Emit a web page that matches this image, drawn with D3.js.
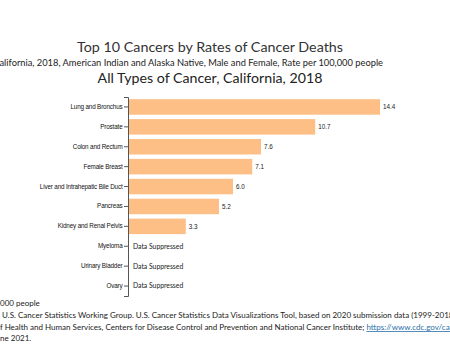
<!DOCTYPE html>
<html>
<head>
<meta charset="utf-8">
<script src="https://cdn.jsdelivr.net/npm/d3@7"></script>
<style>
  body { margin: 0; background: #fff; }
  svg { display: block; }
</style>
</head>
<body>
<div id="chart"></div>
<script>
const width = 450,
  height = 351;

// data
const cancers = ["Lung and Bronchus", "Prostate", "Colon and Rectum", "Female Breast",
  "Liver and Intrahepatic Bile Duct", "Pancreas", "Kidney and Renal Pelvis",
  "Myeloma", "Urinary Bladder", "Ovary"];
const rates = [14.4, 10.7, 7.6, 7.1, 6.0, 5.2, 3.3, null, null, null];

const titles = ["Top 10 Cancers by Rates of Cancer Deaths",
  "California, 2018, American Indian and Alaska Native, Male and Female, Rate per 100,000 people",
  "All Types of Cancer, California, 2018"];

// [hidden prefix, visible part] for the footer lines that are cut off at the left
const footer = [
  ["Rate per 100,", "000 people"],
  ["Source: ", "U.S.  Cancer Statistics Working Group. U.S.  Cancer Statistics Data Visualizations Tool, based on 2020 submission data (1999-2018): U.S. Department"],
  ["U.S. Department o", "f Health and Human Services, Centers  for Disease Control and Prevention  and National Cancer Institute; https://www.cdc.gov/cancer/dataviz, released in June 2021."],
  ["released in Ju", "ne 2021."]
];

const svg = d3.select("#chart").append("svg")
  .attr("width", width)
  .attr("height", height);

const titleFont = "Lato, 'Open Sans', sans-serif";

svg.append("text")
  .attr("x", 210).attr("y", 52)
  .attr("text-anchor", "middle")
  .style("font-family", titleFont)
  .style("font-size", "14.3px")
  .attr("fill", "#333")
  .text(titles[0]);

svg.append("text")
  .attr("x", 383).attr("y", 66)
  .attr("text-anchor", "end")
  .style("font-family", titleFont)
  .style("font-size", "9.3px")
  .attr("fill", "#222")
  .text(titles[1]);

svg.append("text")
  .attr("x", 210).attr("y", 83)
  .attr("text-anchor", "middle")
  .style("font-family", titleFont)
  .style("font-size", "14.2px")
  .attr("fill", "#222")
  .text(titles[2]);

const margin = { left: 128, top: 97, bottom: 296 };

const x = d3.scaleLinear()
  .domain([0, 14.4])
  .range([margin.left, 380]);

const y = d3.scaleBand()
  .domain(cancers)
  .range([margin.top, margin.bottom])
  .paddingInner(0.22)
  .paddingOuter(0.11);

const data = cancers.map((c, i) => ({ name: c, value: rates[i] }));

svg.append("g")
  .selectAll("rect")
  .data(data.filter(d => d.value != null))
  .join("rect")
  .attr("x", x(0) + 1)
  .attr("y", d => y(d.name))
  .attr("width", d => x(d.value) - x(0) - 1)
  .attr("height", y.bandwidth())
  .attr("fill", "#fdbf86");

const yAxis = svg.append("g")
  .attr("transform", `translate(${margin.left},0)`)
  .call(d3.axisLeft(y).tickSize(4).tickSizeOuter(4).tickPadding(1.5));

yAxis.select(".domain").attr("stroke", "#555");
yAxis.selectAll(".tick line").attr("stroke", "#555");
yAxis.selectAll(".tick text")
  .style("font-family", "Arial, 'Liberation Sans', sans-serif")
  .style("font-size", "6.3px")
  .style("letter-spacing", "-0.15px")
  .attr("fill", "#111");

svg.append("g")
  .selectAll("text")
  .data(data)
  .join("text")
  .attr("x", d => d.value != null ? x(d.value) + 3 : x(0) + 5)
  .attr("y", d => y(d.name) + y.bandwidth() / 2)
  .attr("dy", "0.35em")
  .style("font-family", d => d.value != null ? "Arial, 'Liberation Sans', sans-serif" : titleFont)
  .style("font-size", d => d.value != null ? "6.3px" : "6.8px")
  .attr("fill", "#222")
  .text(d => d.value != null ? d.value.toFixed(1) : "Data Suppressed");

// footer: full lines, shifted so only the visible part shows
const footY = [306, 318, 330, 341];
footer.forEach((f, i) => {
  const t = svg.append("text")
    .attr("y", footY[i])
    .style("font-family", titleFont)
    .style("font-size", "8px")
    .attr("fill", "#222");
  const pre = t.append("tspan").text(f[0]);
  const shift = pre.node().getComputedTextLength();
  const vis = f[1];
  const k = vis.indexOf("https://");
  if (k >= 0) {
    t.append("tspan").text(vis.slice(0, k));
    t.append("tspan").text(vis.slice(k)).attr("fill", "#2a6fa8")
      .style("text-decoration", "underline");
  } else {
    t.append("tspan").text(vis);
  }
  t.attr("x", -shift);
});
</script>
</body>
</html>
